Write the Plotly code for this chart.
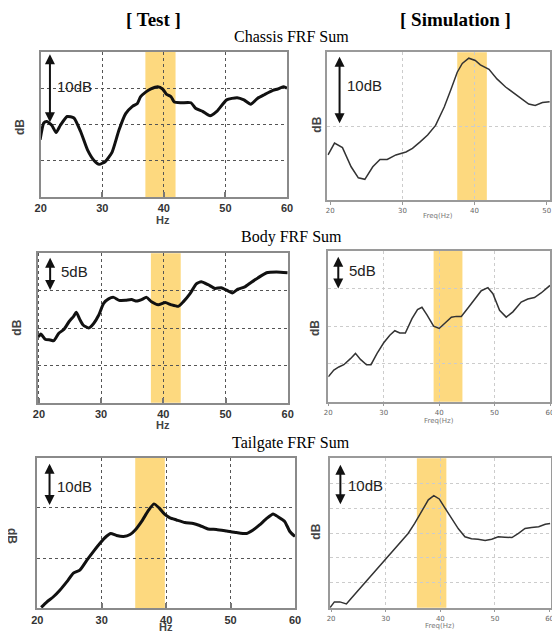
import plotly.graph_objects as go

W, H = 560, 631
OFF = 8  # page body margin of the browser

# ---------------- data ----------------
chassis_test_hz = [19.9, 20.5, 21.0, 21.8, 22.5, 23.2, 24.3, 25.4, 26.5, 27.6, 28.7, 29.5, 30.5, 31.6,
                   32.7, 33.8, 34.9, 35.7, 36.2, 37.1, 37.9, 39.0, 39.8, 40.4, 41.2, 41.7, 42.8, 44.4,
                   45.2, 46.3, 47.5, 48.6, 50.2, 51.9, 53.0, 54.1, 55.2, 56.3, 57.7, 58.5, 59.4, 60.0]
chassis_test_db = [7.9, 10.2, 10.4, 9.9, 8.9, 9.9, 11.1, 10.9, 9.0, 6.5, 5.0, 4.5, 4.9, 6.2,
                   9.2, 11.5, 12.5, 12.9, 13.8, 14.5, 14.9, 15.2, 14.9, 14.2, 13.8, 13.1, 13.0, 13.0,
                   12.2, 11.8, 11.2, 11.8, 13.4, 13.7, 13.4, 12.8, 13.6, 14.1, 14.7, 14.9, 15.2, 15.0]

chassis_sim_hz = [19.7, 20.6, 21.7, 22.9, 23.9, 24.8, 25.9, 26.9, 27.9, 29.1, 30.5, 31.4, 32.5, 33.5,
                  34.6, 35.8, 36.7, 37.6, 38.3, 39.2, 40.1, 40.8, 42.0, 43.1, 44.3, 45.4, 46.4, 47.5,
                  48.4, 49.4, 50.4]
chassis_sim_db = [6.1, 7.7, 7.1, 4.5, 3.0, 2.8, 4.5, 5.5, 5.5, 6.1, 6.5, 7.0, 7.9, 8.8,
                  10.1, 12.6, 14.9, 17.3, 18.5, 19.2, 18.9, 18.3, 17.7, 16.4, 15.3, 14.5, 13.7, 13.0,
                  12.8, 13.2, 13.3]

body_test_hz = [19.9, 20.3, 21.0, 21.8, 22.4, 23.2, 24.0, 24.8, 25.6, 26.0, 26.6, 27.1, 28.0, 28.8,
                29.6, 30.4, 31.2, 32.0, 32.9, 33.9, 34.9, 35.7, 36.5, 37.3, 38.1, 39.2, 40.3, 41.3,
                42.4, 43.2, 44.3, 45.3, 46.1, 47.2, 48.3, 49.3, 50.1, 51.1, 52.0, 53.1, 54.1, 55.2,
                56.6, 58.2, 60.0]
body_test_db = [8.8, 9.2, 8.5, 8.4, 8.3, 9.3, 9.8, 10.8, 11.6, 12.1, 11.1, 10.4, 10.0, 10.6,
                11.7, 13.3, 13.9, 14.1, 13.7, 13.7, 13.8, 13.6, 13.8, 14.1, 13.5, 13.1, 13.4, 13.1,
                12.9, 13.5, 14.6, 15.9, 16.2, 15.8, 15.3, 15.4, 15.1, 14.7, 15.2, 15.5, 16.1, 16.7,
                17.4, 17.5, 17.4]

body_sim_hz = [20.0, 21.0, 21.9, 22.8, 24.0, 24.9, 25.8, 26.9, 27.7, 28.8, 30.0, 31.1, 32.0, 32.9,
               33.9, 35.1, 36.1, 36.9, 37.8, 39.0, 40.0, 41.0, 42.2, 43.1, 44.0, 45.2, 46.4, 47.6,
               48.8, 49.7, 50.9, 52.1, 53.3, 54.8, 56.0, 57.2, 58.4, 60.0]
body_sim_db = [3.3, 4.2, 4.6, 4.9, 5.7, 6.4, 5.6, 4.9, 4.9, 6.4, 7.8, 8.8, 9.4, 9.1,
               9.1, 11.0, 12.2, 12.5, 11.5, 10.0, 9.7, 10.4, 11.2, 11.3, 11.3, 12.4, 13.6, 14.7,
               15.1, 14.3, 12.1, 11.2, 11.9, 13.2, 13.6, 13.8, 14.4, 15.4]

tail_test_hz = [20.6, 21.5, 22.5, 23.5, 24.6, 25.6, 26.6, 27.7, 28.7, 29.7, 30.7, 31.4, 32.3, 33.4,
                34.4, 35.2, 36.2, 37.2, 38.1, 38.9, 39.8, 40.6, 41.6, 42.9, 44.2, 45.2, 46.5, 47.8,
                49.4, 50.9, 52.5, 53.5, 54.5, 55.6, 56.6, 57.4, 58.4, 59.2, 60.0]
tail_test_db = [0.2, 1.3, 2.3, 3.6, 5.3, 7.0, 7.6, 9.6, 11.3, 12.9, 14.3, 14.9, 14.5, 14.3,
                14.7, 15.6, 17.3, 19.4, 20.8, 20.0, 18.7, 18.0, 17.6, 17.1, 16.9, 16.5, 15.8, 15.7,
                15.4, 15.1, 14.9, 15.6, 16.6, 17.9, 18.8, 18.2, 17.3, 15.3, 14.3]

tail_sim_hz = [19.8, 20.6, 21.6, 22.8, 23.7, 24.9, 26.5, 28.0, 29.5, 31.0, 32.6, 34.1, 35.3, 36.5,
               37.8, 38.8, 39.8, 40.8, 42.0, 43.3, 44.5, 45.7, 46.9, 48.2, 49.4, 50.6, 51.8, 53.1,
               54.3, 55.5, 56.7, 58.0, 59.2, 60.1]
tail_sim_db = [0.0, 1.4, 1.4, 0.9, 2.3, 4.1, 6.4, 8.7, 10.9, 13.1, 15.4, 17.9, 20.3, 23.0,
               26.0, 27.0, 26.2, 24.1, 21.5, 19.0, 17.1, 16.6, 16.5, 16.2, 16.5, 17.1, 17.0, 16.9,
               17.9, 19.1, 19.3, 19.5, 20.1, 20.3]

# highlighted frequency bands (Hz)
chassis_test_band = [37.0, 41.9]
chassis_sim_band = [37.6, 41.7]
body_test_band = [38.0, 42.8]
body_sim_band = [39.0, 44.2]
tail_test_band = [35.2, 39.8]
tail_sim_band = [35.7, 41.1]

test_ticks = [20, 30, 40, 50, 60]
chassis_sim_ticks = [20, 30, 40, 50]
sim_ticks = [20, 30, 40, 50, 60]

row_titles = ["Chassis FRF Sum", "Body FRF Sum", "Tailgate FRF Sum"]
col_titles = ["[ Test ]", "[ Simulation ]"]
scale_labels = ["10dB", "10dB", "5dB", "5dB", "10dB", "10dB"]

# ---------------- layout helpers (window pixels -> paper) ----------------
def px_x(p):
    return (p - OFF) / W

def px_y(p):
    return 1 - (p - OFF) / H

# panel boxes in window pixels: (left, right, top, bottom)
boxes = [
    (40.7, 287.0, 52.0, 197.0),
    (327.3, 550.0, 52.3, 200.0),
    (37.7, 287.7, 253.3, 402.7),
    (328.3, 550.0, 250.7, 401.7),
    (37.3, 295.0, 457.7, 608.3),
    (330.0, 550.7, 458.3, 607.7),
]

fig = go.Figure()

series = [
    (chassis_test_hz, chassis_test_db, True),
    (chassis_sim_hz, chassis_sim_db, False),
    (body_test_hz, body_test_db, True),
    (body_sim_hz, body_sim_db, False),
    (tail_test_hz, tail_test_db, True),
    (tail_sim_hz, tail_sim_db, False),
]
bands = [chassis_test_band, chassis_sim_band, body_test_band, body_sim_band, tail_test_band, tail_sim_band]

x_ranges = [[20, 60], [19.6, 50.45], [19.8, 60.0], [20, 60], [20, 60], [19.8, 60.2]]
y_ranges = [[0, 20], [0, 20], [0, 20], [0, 20], [0, 30], [0, 36]]
y_dticks = [5, 10, 5, 5, 10, 6]
x_ticks = [test_ticks, chassis_sim_ticks, test_ticks, sim_ticks, test_ticks, sim_ticks]
x_minor_grid = [None, [30, 40], None, [30, 40, 50], None, [30, 40, 50]]
y_minor_grid = [None, [10], None, [5, 10, 15], None, [6, 12, 18, 24, 30]]

# scale arrow: (x, y_top, y_bottom, text_x, text_y)
arrows = [
    (21.5, 19.9, 10.3, 25.5, 15.2),
    (21.3, 19.6, 10.4, 24.7, 15.5),
    (21.8, 19.6, 15.1, 25.7, 17.5),
    (21.8, 19.4, 15.0, 26.1, 17.4),
    (21.9, 29.1, 20.6, 25.7, 24.2),
    (21.7, 34.8, 24.9, 26.3, 29.4),
]

for i, ((hz, db, is_test), box) in enumerate(zip(series, boxes)):
    n = i + 1
    xa = "x" if n == 1 else f"x{n}"
    ya = "y" if n == 1 else f"y{n}"
    l, r, t, b = box
    fig.add_trace(go.Scatter(
        x=hz, y=db, mode="lines", xaxis=xa, yaxis=ya, showlegend=False,
        line=dict(color="#111111" if is_test else "#333333", width=3 if is_test else 1.5,
                  shape="spline" if is_test else "linear", smoothing=0.5 if is_test else None),
        hoverinfo="skip"))

    if is_test:
        xax = dict(domain=[px_x(l), px_x(r)], anchor=ya, range=x_ranges[i], tickvals=x_ticks[i],
                   showgrid=True, gridcolor="#555555", griddash="dot", gridwidth=1,
                   ticks="inside", ticklen=5, tickcolor="#777777", tickwidth=1.5,
                   showline=True, mirror=True, linecolor="#8a8a8a", linewidth=2, zeroline=False,
                   automargin=False, ticklabelstandoff=0,
                   tickfont=dict(family="Liberation Sans", size=11, color="#333333", weight="bold"))
        yax = dict(domain=[px_y(b), px_y(t)], anchor=xa, range=y_ranges[i], dtick=y_dticks[i],
                   showticklabels=False, showgrid=True, gridcolor="#555555", griddash="dot",
                   gridwidth=1, ticks="", showline=True, mirror=True, linecolor="#8a8a8a",
                   linewidth=2, zeroline=False, automargin=False)
    else:
        xax = dict(domain=[px_x(l), px_x(r)], anchor=ya, range=x_ranges[i], tickvals=x_ticks[i],
                   showgrid=False, ticks="outside", ticklen=3, tickcolor="#999999",
                   showline=True, mirror=True, linecolor="#9a9a9a", linewidth=1.5, zeroline=False,
                   automargin=False,
                   tickfont=dict(family="DejaVu Sans", size=7, color="#666666"),
                   minor=dict(tickvals=x_minor_grid[i], showgrid=True, gridcolor="#cccccc",
                              griddash="dot", gridwidth=1, ticks=""))
        yax = dict(domain=[px_y(b), px_y(t)], anchor=xa, range=y_ranges[i],
                   showticklabels=False, showgrid=False, ticks="", tickvals=[],
                   showline=True, mirror=True, linecolor="#9a9a9a", linewidth=1.5, zeroline=False,
                   automargin=False,
                   minor=dict(tickvals=y_minor_grid[i], showgrid=True, gridcolor="#cccccc",
                              griddash="dot", gridwidth=1, ticks=""))
    fig.layout[("xaxis" if n == 1 else f"xaxis{n}")] = xax
    fig.layout[("yaxis" if n == 1 else f"yaxis{n}")] = yax

    # highlight band
    fig.add_shape(type="rect", xref=xa, yref=f"{ya} domain", x0=bands[i][0], x1=bands[i][1],
                  y0=0, y1=1, fillcolor="#FDD97F", line_width=0, layer="below")

    # scale arrow
    ax_x, y_top, y_bot, tx, ty = arrows[i]
    fig.add_annotation(x=ax_x, y=y_bot, ax=ax_x, ay=y_top, xref=xa, yref=ya, axref=xa, ayref=ya,
                       text="", showarrow=True, arrowhead=2, arrowside="end+start", arrowsize=1,
                       arrowwidth=2, arrowcolor="#111111")
    fig.add_annotation(x=tx, y=ty, xref=xa, yref=ya, text=scale_labels[i], showarrow=False,
                       xanchor="center", yanchor="middle",
                       font=dict(family="Liberation Sans", size=15, color="#222222"))

def label(x, y, text, font, angle=0, yanchor="middle"):
    fig.add_annotation(x=px_x(x), y=y if yanchor == "top" else px_y(y), xref="paper", yref="paper",
                       text=text, showarrow=False, xanchor="center", yanchor=yanchor,
                       textangle=angle, font=font, borderpad=0)

# column titles (pinned to the top edge so they are not clipped)
col_font = dict(family="Liberation Serif", size=19, color="#000000", weight="bold")
label(153, 1.0, col_titles[0], col_font, yanchor="top")
label(455, 1.0, col_titles[1], col_font, yanchor="top")

# row titles
row_font = dict(family="Liberation Serif", size=16, color="#000000")
for title, yy in zip(row_titles, [36.5, 237, 443]):
    label(291, yy, title, row_font)

# x-axis titles
hz_font = dict(family="Liberation Sans", size=11, color="#444444", weight="bold")
for xx, yy in [(163, 219.5), (162.7, 424.5), (165.7, 627)]:
    label(xx, yy, "Hz", hz_font)
freq_font = dict(family="DejaVu Sans", size=7, color="#777777")
for xx, yy in [(438, 216), (439, 421), (440, 626)]:
    label(xx, yy, "Freq(Hz)", freq_font)

# y-axis titles
db_font = dict(family="Liberation Sans", size=12, color="#444444", weight="bold")
for xx, yy, ang in [(20, 127, -90), (316.7, 125, -90), (16.7, 328, -90), (315, 328, -90),
                    (12, 536, 90), (316, 531.7, -90)]:
    label(xx, yy, "dB", db_font, ang)

fig.update_layout(width=W, height=H, margin=dict(l=0, r=0, t=0, b=0, autoexpand=False),
                  paper_bgcolor="white", plot_bgcolor="white", showlegend=False)

fig.write_html("out.html")
